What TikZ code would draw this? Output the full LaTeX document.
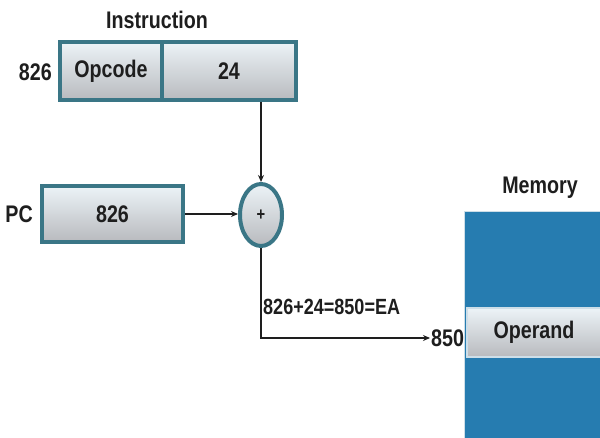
\documentclass[tikz,border=0pt]{standalone}
\usepackage{fontspec}
\setmainfont[FakeStretch=0.82]{Liberation Sans}
\usetikzlibrary{shapes.geometric,arrows.meta}

\definecolor{eacolor0000}{RGB}{58,118,134}
\definecolor{eacolor0001}{RGB}{236,243,247}
\definecolor{eacolor0002}{RGB}{184,186,190}
\definecolor{eacolor0003}{RGB}{38,124,176}
\definecolor{eacolor0004}{RGB}{205,222,232}
\definecolor{eacolor0005}{RGB}{30,30,30}

\begin{document}
\begin{tikzpicture}[x=1pt,y=1pt,yscale=-1
,cell/.style={draw=eacolor0000,line width=4pt,top color=eacolor0001,bottom color=eacolor0002,inner sep=0pt,font=\fontsize{24}{27}\selectfont\bfseries,text=eacolor0005}
,lbl/.style={inner sep=0pt,font=\fontsize{24}{27}\selectfont\bfseries,text=eacolor0005}
,conn/.style={draw=eacolor0005,line width=1.2pt,-{Stealth[length=7pt,width=6pt]}}
]
\useasboundingbox (0,0) rectangle (600,438);
\fill[white] (0,0) rectangle (600,438);
% instruction word
\node[lbl] (title) at (157,20) {Instruction};
\node[cell,minimum width=102pt,minimum height=58pt] (opcode) at (111,71) {Opcode};
\node[cell,minimum width=134pt,minimum height=58pt] (field) at (229,71) {24};
\node[lbl,anchor=east] (addr) at (52,72) {826};
% program counter
\node[lbl,anchor=east] (pclbl) at (33,214) {PC};
\node[cell,minimum width=141pt,minimum height=56pt] (pc) at (112.5,214) {826};
\node[cell,ellipse,minimum width=42pt,minimum height=62pt,font=\fontsize{18}{20}\selectfont\bfseries] (adder) at (261,215) {+};
% memory
\node[lbl] (memlbl) at (540,188) {Memory};
\node[draw=eacolor0004,line width=1pt,fill=eacolor0003,minimum width=138pt,minimum height=228pt,inner sep=0pt] (memory) at (533,326) {};
\node[draw=eacolor0004,line width=1.5pt,top color=eacolor0001,bottom color=eacolor0002,minimum width=134pt,minimum height=49pt,inner sep=0pt,font=\fontsize{24}{27}\selectfont\bfseries,text=eacolor0005] (operand) at (534,332.5) {Operand};
\node[lbl,anchor=west,inner sep=1pt] (target) at (430,338) {850};
\node[lbl,font=\fontsize{22}{25}\selectfont\bfseries,anchor=west] (ea) at (263,307) {826+24=850=EA};
% connectors
\draw[conn] (adder.north |- field.south) -- (adder.north);
\draw[conn] (pc.east) -- (pc.east -| adder.west);
\draw[conn] (adder.south) |- (target.west);
\end{tikzpicture}
\end{document}
